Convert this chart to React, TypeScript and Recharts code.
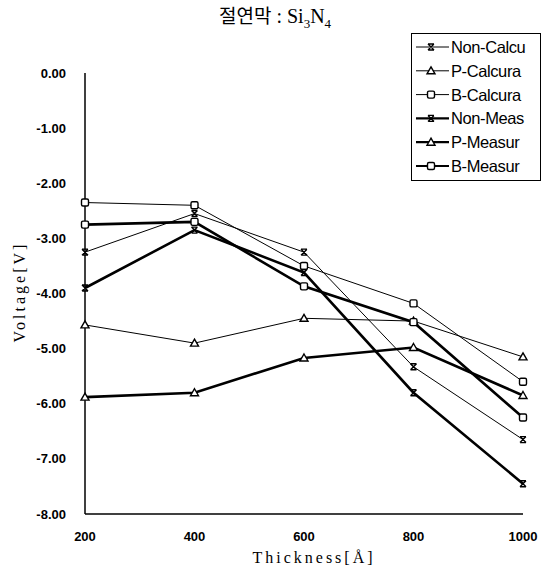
import React from 'react'
import { LineChart, Line, XAxis, YAxis } from 'recharts'

const thickness = [200, 400, 600, 800, 1000]
const nonCalcu = [-3.25, -2.55, -3.25, -5.33, -6.65]
const pCalcura = [-4.57, -4.9, -4.45, -4.5, -5.15]
const bCalcura = [-2.35, -2.4, -3.5, -4.18, -5.6]
const nonMeas = [-3.9, -2.85, -3.62, -5.8, -7.45]
const pMeasur = [-5.88, -5.8, -5.17, -4.98, -5.85]
const bMeasur = [-2.75, -2.7, -3.87, -4.52, -6.25]
const yTicks = [0, -1, -2, -3, -4, -5, -6, -7, -8]

const series = [
  { key: 'nonCalcu', name: 'Non-Calcu', values: nonCalcu, marker: 'x', width: 1 },
  { key: 'pCalcura', name: 'P-Calcura', values: pCalcura, marker: 'tri', width: 1 },
  { key: 'bCalcura', name: 'B-Calcura', values: bCalcura, marker: 'sq', width: 1 },
  { key: 'nonMeas', name: 'Non-Meas', values: nonMeas, marker: 'x', width: 2.6 },
  { key: 'pMeasur', name: 'P-Measur', values: pMeasur, marker: 'tri', width: 2.6 },
  { key: 'bMeasur', name: 'B-Measur', values: bMeasur, marker: 'sq', width: 2.6 },
]

const data = thickness.map((t, i) => {
  const row: any = { t }
  series.forEach(s => { row[s.key] = s.values[i] })
  return row
})

function Marker({ cx, cy, kind }: { cx: number, cy: number, kind: string }) {
  if (cx == null || cy == null) return null
  if (kind === 'x') {
    return (
      <path d={`M${cx - 3},${cy - 3}L${cx + 3},${cy + 3}M${cx + 3},${cy - 3}L${cx - 3},${cy + 3}M${cx - 3},${cy - 3}L${cx + 3},${cy - 3}M${cx - 3},${cy + 3}L${cx + 3},${cy + 3}`}
        stroke="#000" strokeWidth={1.4} fill="none" />
    )
  }
  if (kind === 'tri') {
    return <path d={`M${cx},${cy - 4}L${cx + 4},${cy + 3}L${cx - 4},${cy + 3}Z`} fill="#fff" stroke="#000" strokeWidth={1.4} />
  }
  return <rect x={cx - 3.5} y={cy - 3.5} width={7} height={7} rx={1.5} fill="#fff" stroke="#000" strokeWidth={1.4} />
}

function LegendBox() {
  return (
    <svg width={130} height={148} style={{ display: 'block' }}>
      <rect x={0.5} y={0.5} width={129} height={147} fill="#fff" stroke="#000" strokeWidth={1} />
      {series.map((s, i) => {
        const y = 14 + i * 23.8
        return (
          <g key={s.key}>
            <line x1={5} x2={38} y1={y} y2={y} stroke="#000" strokeWidth={s.width === 1 ? 1 : 2.2} />
            <Marker cx={20} cy={y} kind={s.marker} />
            <text x={40} y={y + 6} fontSize={16.5} fontFamily="Liberation Sans, Arial, sans-serif" fill="#000" letterSpacing={-0.4}>{s.name}</text>
          </g>
        )
      })}
    </svg>
  )
}

export default function App() {
  const tickStyle = { fill: '#000', fontSize: 13, fontWeight: 700, fontFamily: 'Liberation Sans, Arial, sans-serif' }
  return (
    <div style={{ position: 'absolute', left: 0, top: 0, width: 542, height: 570, background: '#fff' }}>
      <div style={{ position: 'absolute', left: 0, width: 550, top: 1, textAlign: 'center', fontSize: 20, fontFamily: '"Liberation Serif", serif', color: '#000' }}>
        <span style={{ fontFamily: '"Noto Sans CJK KR", sans-serif', fontSize: 19 }}>절연막</span> : Si<sub style={{ fontSize: 13 }}>3</sub>N<sub style={{ fontSize: 13 }}>4</sub>
      </div>
      <LineChart width={542} height={570} data={data} margin={{ top: 73, right: 19, bottom: 26, left: 0 }}>
        <XAxis dataKey="t" type="number" domain={[200, 1000]} ticks={thickness} tick={tickStyle}
          axisLine={{ stroke: '#000', strokeWidth: 1.5 }} tickLine={false} tickMargin={12} height={30} />
        <YAxis type="number" domain={[-8, 0]} ticks={yTicks} tick={tickStyle} width={85}
          tickFormatter={(v: number) => v.toFixed(2)}
          axisLine={{ stroke: '#000', strokeWidth: 1.5 }} tickLine={false} tickMargin={13} />
        {series.map(s => (
          <Line key={s.key} dataKey={s.key} name={s.name} type="linear" stroke="#000" strokeWidth={s.width}
            isAnimationActive={false}
            dot={(p: any) => <Marker key={`${s.key}-${p.index}`} cx={p.cx} cy={p.cy} kind={s.marker} />}
            activeDot={false} />
        ))}
      </LineChart>
      <div style={{ position: 'absolute', left: 411, top: 33 }}>
        <LegendBox />
      </div>
      <div style={{ position: 'absolute', left: 20, top: 292, width: 0, height: 0 }}>
        <div style={{ position: 'absolute', transform: 'translate(-50%, -50%) rotate(-90deg)', whiteSpace: 'nowrap', fontSize: 16, fontFamily: '"Liberation Serif", serif', letterSpacing: 3 }}>Voltage[V]</div>
      </div>
      <div style={{ position: 'absolute', left: 0, width: 628, top: 549, textAlign: 'center', fontSize: 16, fontFamily: '"Liberation Serif", serif', letterSpacing: 3 }}>Thickness[Å]</div>
    </div>
  )
}
